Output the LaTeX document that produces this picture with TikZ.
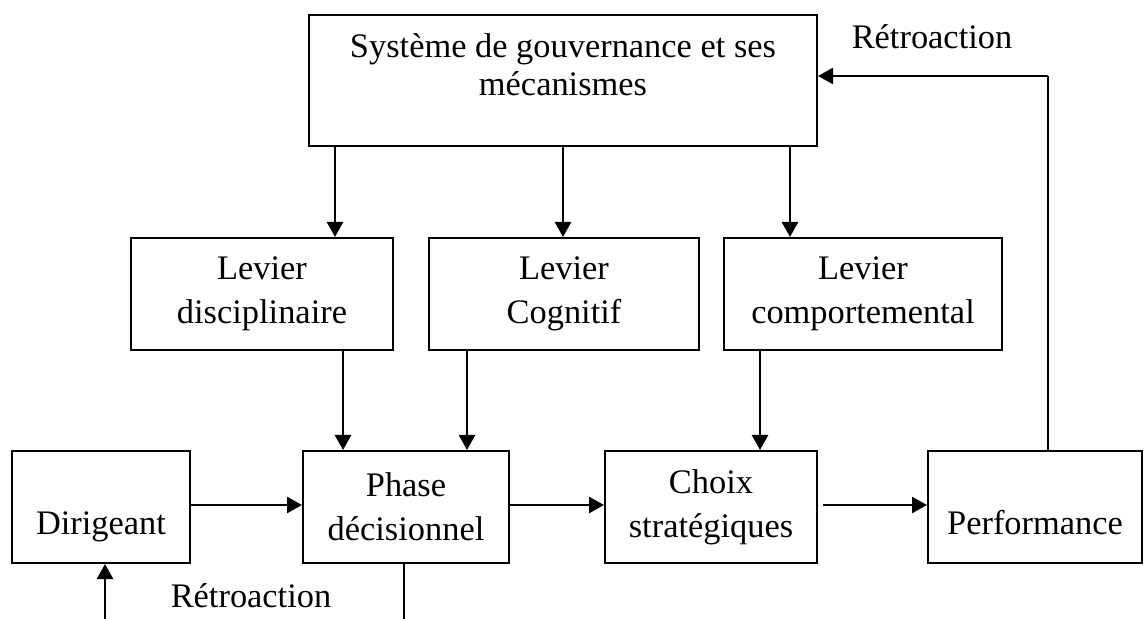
\documentclass[tikz,border=0pt]{standalone}
\usepackage{fontspec}
\setmainfont{Liberation Serif}
\usetikzlibrary{arrows.meta}
\begin{document}
\begin{tikzpicture}[x=0.5pt,y=-0.5pt,
  box/.style={draw, line width=1pt, rectangle, inner sep=0pt, align=center,
    font=\fontsize{17.2}{22}\selectfont},
  onebox/.style={box, text height=27pt, text depth=0pt},
  txt/.style={font=\fontsize{17.2}{19}\selectfont, inner sep=0pt},
  arr/.style={line width=1.3pt, -{Triangle[length=7.5pt,width=8pt]}},
  plain/.style={line width=0.9pt}]
\useasboundingbox (0,0) rectangle (1144,619);

% top box (text set separately near its upper edge)
\node[box, minimum width=254pt, minimum height=65.25pt] (gov) at (563,80.75) {};
\node[txt, anchor=base] (govtxt) at (563,58) {Système de gouvernance et ses};
\node[txt, anchor=base] (govtxt2) at (563,96) {mécanismes};

% levers
\node[box, minimum width=131pt, minimum height=56pt] (levD) at (262,294) {Levier\\disciplinaire};
\node[box, minimum width=135pt, minimum height=56pt] (levC) at (564,294) {Levier\\Cognitif};
\node[box, minimum width=139pt, minimum height=56pt] (levB) at (863,294) {Levier\\comportemental};

% process chain
\node[onebox, minimum width=89pt, minimum height=56pt] (dir) at (101,507) {Dirigeant};
\node[box, minimum width=103pt, minimum height=56pt] (phase) at (406,507) {Phase\\décisionnel};
\node[box, minimum width=106pt, minimum height=56pt] (choix) at (711,507) {Choix\\stratégiques};
\node[onebox, minimum width=107pt, minimum height=56pt] (perf) at (1035,507) {Performance};

% reference positions for the connectors
\coordinate (xa) at (335,0);
\coordinate (xb) at (563,0);
\coordinate (xc) at (790,0);
\coordinate (xd) at (343,0);
\coordinate (xe) at (467,0);
\coordinate (xf) at (760,0);
\coordinate (ya) at (0,505);
\coordinate (fbx) at (1048,0);
\coordinate (fby) at (0,76);
\coordinate (lowL) at (105,619);
\coordinate (lowR) at (404,619);

% governance to levers
\draw[arr] (gov.south -| xa) -- (levD.north -| xa);
\draw[arr] (gov.south -| xb) -- (levC.north -| xb);
\draw[arr] (gov.south -| xc) -- (levB.north -| xc);

% levers to the chain
\draw[arr] (levD.south -| xd) -- (phase.north -| xd);
\draw[arr] (levC.south -| xe) -- (phase.north -| xe);
\draw[arr] (levB.south -| xf) -- (choix.north -| xf);

% chain
\draw[arr] (dir.east |- ya) -- (phase.west |- ya);
\draw[arr] (phase.east |- ya) -- (choix.west |- ya);
\draw[arr] ([xshift=2.5pt]choix.east |- ya) -- (perf.west |- ya);

% feedback to governance
\draw[plain] (perf.north -| fbx) -- (fbx |- fby);
\draw[arr] (fbx |- fby) -- (gov.east |- fby);
\node[txt, anchor=base] (fbtop) at (932,49) {Rétroaction};

% feedback to the leader
\draw[arr] (lowL) -- (dir.south -| lowL);
\draw[plain] (phase.south -| lowR) -- (lowR);
\node[txt, anchor=base] (fblow) at (251,607) {Rétroaction};
\end{tikzpicture}
\end{document}
